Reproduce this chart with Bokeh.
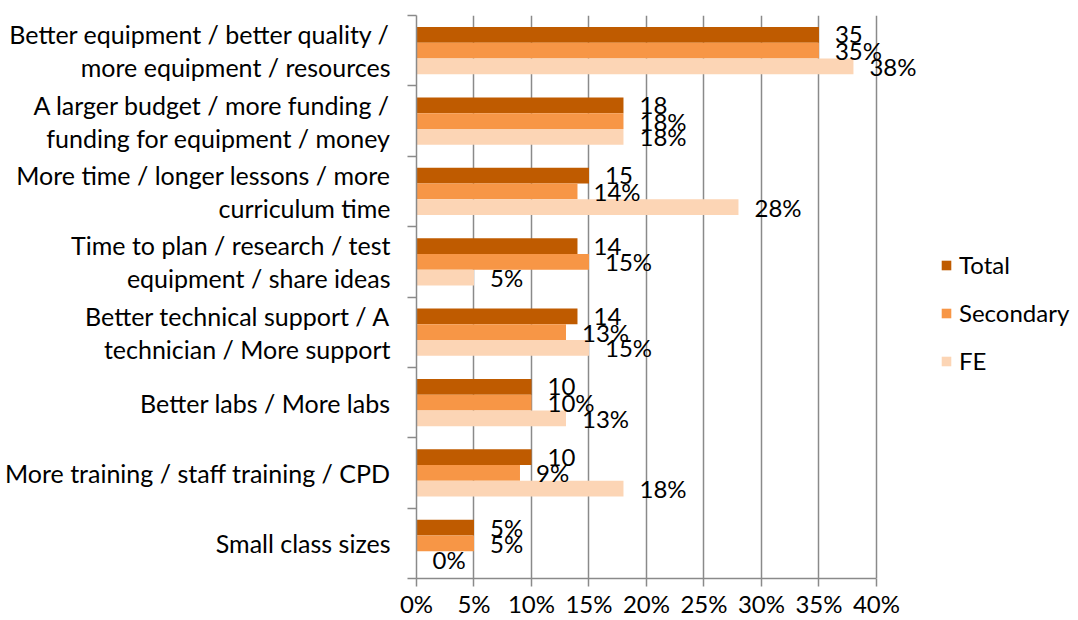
from bokeh.plotting import figure
from bokeh.models import (ColumnDataSource, Range1d, FixedTicker, LinearAxis,
                          LabelSet, Legend, LegendItem, PrintfTickFormatter)
from bokeh.core.properties import value
from bokeh.transform import dodge
from bokeh.embed import file_html
from bokeh.resources import INLINE

categories = [
    "Better equipment / better quality /\nmore equipment / resources",
    "A larger budget / more funding /\nfunding for equipment / money",
    "More time / longer lessons / more\ncurriculum time",
    "Time to plan / research / test\nequipment / share ideas",
    "Better technical support / A\ntechnician / More support",
    "Better labs / More labs",
    "More training / staff training / CPD",
    "Small class sizes",
]
total = [35, 18, 15, 14, 14, 10, 10, 5]
secondary = [35, 18, 14, 15, 13, 10, 9, 5]
fe = [38, 18, 28, 5, 15, 13, 18, 0]
total_labels = ["35", "18", "15", "14", "14", "10", "10", "5%"]
secondary_labels = [f"{v}%" for v in secondary]
fe_labels = [f"{v}%" for v in fe]
series_names = ["Total", "Secondary", "FE"]
x_ticks = [0, 5, 10, 15, 20, 25, 30, 35, 40]

FONT = "Lato"
FS = "24px"
CAT_FS = "25px"
GRID = "#8a8a8a"
colors = ["#BF5B00", "#F79646", "#FCD5B5"]

n = len(categories)
pos = [i + 0.5 for i in range(n)]  # category slot centres, first category at the top

# the frame runs on past 40% so that the value labels and the legend are not clipped
p = figure(width=1078, height=620, x_range=Range1d(0, 57.57), y_range=Range1d(n, 0),
           toolbar_location=None, output_backend="svg",
           min_border_left=416, min_border_right=0, min_border_top=15, min_border_bottom=30)
p.outline_line_color = None
p.background_fill_color = "white"

# inner left axis: boundary ticks between categories
ya = p.yaxis[0]
ya.ticker = FixedTicker(ticks=list(range(n + 1)))
ya.major_label_overrides = {i: "" for i in range(n + 1)}
ya.major_label_standoff = 0
ya.major_tick_in = 0
ya.major_tick_out = 9
ya.minor_tick_line_color = None
ya.axis_line_color = GRID
ya.axis_line_width = 1.5
ya.major_tick_line_color = GRID
ya.major_tick_line_width = 1.5

# outer left axis: category names at slot centres
cat_axis = LinearAxis(ticker=FixedTicker(ticks=pos),
                      major_label_overrides={yc: c for yc, c in zip(pos, categories)},
                      axis_line_color=None, major_tick_line_color=None, minor_tick_line_color=None,
                      major_label_standoff=11, major_label_text_font=FONT,
                      major_label_text_font_size=CAT_FS, major_label_text_color="black",
                      major_label_text_line_height=1.1)
p.add_layout(cat_axis, "left")

xa = p.xaxis[0]
xa.ticker = FixedTicker(ticks=x_ticks)
xa.formatter = PrintfTickFormatter(format="%d%%")
xa.bounds = (0, 40)
xa.major_tick_in = 0
xa.major_tick_out = 8
xa.minor_tick_line_color = None
xa.axis_line_color = GRID
xa.axis_line_width = 1.5
xa.major_tick_line_color = GRID
xa.major_tick_line_width = 1.5
xa.major_label_text_font = FONT
xa.major_label_text_font_size = FS
xa.major_label_text_color = "black"
xa.major_label_standoff = 2

p.xgrid.ticker = FixedTicker(ticks=x_ticks)
p.xgrid.grid_line_color = GRID
p.xgrid.grid_line_width = 1.5
p.ygrid.visible = False

src = ColumnDataSource(dict(cat=categories, pos=pos, total=total, secondary=secondary, fe=fe,
                            tl=total_labels, sl=secondary_labels, fl=fe_labels))

bh = 0.224
offsets = [-bh, 0.0, bh]
fields = ["total", "secondary", "fe"]
lab_fields = ["tl", "sl", "fl"]
renderers = []
for f, off, c in zip(fields, offsets, colors):
    r = p.hbar(y=dodge("pos", off), left=0, right=f, height=bh,
               source=src, fill_color=c, line_color=None)
    renderers.append(r)
for f, lf, off in zip(fields, lab_fields, offsets):
    ls = LabelSet(x=f, y=dodge("pos", off), text=lf, source=src,
                  x_offset=16, text_baseline="middle", text_align="left",
                  text_font=value(FONT), text_font_size=value(FS), text_color="black")
    p.add_layout(ls)

legend = Legend(items=[LegendItem(label=s, renderers=[r]) for s, r in zip(series_names, renderers)],
                location=(524, 203), orientation="vertical",
                glyph_width=12, glyph_height=12, label_standoff=7, spacing=19,
                padding=0, margin=0, border_line_color=None, background_fill_alpha=0,
                label_text_font=FONT, label_text_font_size=FS, label_text_color="black")
p.add_layout(legend)

open("out.html", "w").write(file_html(p, INLINE))
